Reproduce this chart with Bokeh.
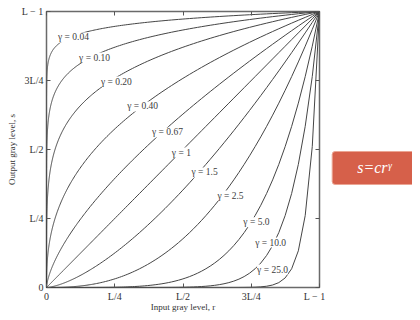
import numpy as np
from bokeh.plotting import figure
from bokeh.layouts import row
from bokeh.models import Range1d, LinearAxis, FixedTicker, Label, LabelSet, ColumnDataSource
from bokeh.embed import file_html
from bokeh.resources import INLINE

# ---- data ----
gammas = [0.04, 0.10, 0.20, 0.40, 0.67, 1.0, 1.5, 2.5, 5.0, 10.0, 25.0]
gamma_labels = ["γ = 0.04", "γ = 0.10", "γ = 0.20", "γ = 0.40", "γ = 0.67", "γ = 1",
                "γ = 1.5", "γ = 2.5", "γ = 5.0", "γ = 10.0", "γ = 25.0"]
label_x = [0.099, 0.176, 0.256, 0.352, 0.443, 0.494, 0.579, 0.674, 0.769, 0.821, 0.828]
label_y = [0.906, 0.833, 0.746, 0.656, 0.562, 0.489, 0.417, 0.333, 0.236, 0.163, 0.065]
tick_values = [0, 0.25, 0.5, 0.75, 1.0]
tick_labels = ["0", "L/4", "L/2", "3L/4", "L − 1"]
formula_text = "s=crᵞ"

SERIF = "Liberation Serif"
INK = "#454545"
H = 316

p = figure(width=325, height=H, output_backend="svg", toolbar_location=None,
           x_range=Range1d(0, 1), y_range=Range1d(0, 1),
           x_axis_type=None, y_axis_type=None,
           min_border_left=46, min_border_right=6, min_border_top=11, min_border_bottom=29)
p.grid.visible = False
p.outline_line_color = "#6a6a6a"
p.outline_line_width = 1.5
p.background_fill_color = "white"
p.border_fill_color = "white"

shown = {v: t for v, t in zip(tick_values, tick_labels)}
hidden = {v: "" for v in tick_values}


def make_axis(show_labels, label=None, label_standoff=2):
    ax = LinearAxis(ticker=FixedTicker(ticks=tick_values, minor_ticks=[]))
    ax.major_tick_in = 4
    ax.major_tick_out = 0
    ax.major_tick_line_color = "#555555"
    ax.axis_line_color = None
    ax.major_label_text_font = SERIF
    ax.major_label_text_color = "#333333"
    ax.major_label_text_font_size = "10px"
    if show_labels:
        ax.major_label_overrides = shown
        ax.major_label_standoff = 3
    else:
        ax.major_label_overrides = hidden
        ax.major_label_standoff = 0
    if label:
        ax.axis_label = label
        ax.axis_label_text_font = SERIF
        ax.axis_label_text_font_style = "normal"
        ax.axis_label_text_font_size = "9px"
        ax.axis_label_text_color = "#333333"
        ax.axis_label_standoff = label_standoff
    return ax

p.add_layout(make_axis(True, "Input gray level, r", label_standoff=-3), "below")
p.add_layout(make_axis(True, "Output gray level, s"), "left")
p.add_layout(make_axis(False), "above")
p.add_layout(make_axis(False), "right")

# curves s = r^gamma
r = np.concatenate([[0.0], np.logspace(-7, 0, 600)])
for g in gammas:
    p.line(r, r ** g, line_color=INK, line_width=1.0)

src = ColumnDataSource(dict(x=label_x, y=label_y, t=gamma_labels))
p.add_layout(LabelSet(x="x", y="y", text="t", source=src,
                      text_font=SERIF, text_font_size="9.5px", text_color="#3c3c3c",
                      text_align="center", text_baseline="middle",
                      background_fill_color="white"))

# side panel with the formula box
q = figure(width=87, height=H, output_backend="svg", toolbar_location=None,
           x_range=Range1d(0, 1), y_range=Range1d(0, 1),
           x_axis_type=None, y_axis_type=None,
           min_border_left=0, min_border_right=0, min_border_top=0, min_border_bottom=0)
q.grid.visible = False
q.outline_line_color = None
q.background_fill_color = "white"
q.border_fill_color = "white"
q.add_layout(Label(x=0.56, y=0.433, text=formula_text,
                   text_font=SERIF, text_font_style="italic", text_font_size="16px",
                   text_color="white", text_align="center", text_baseline="middle",
                   background_fill_color="#D6604A", border_line_color="#EBA593",
                   border_line_width=1, padding=(25, 8), border_radius=3))

layout = row(p, q)
open("out.html", "w").write(file_html(layout, INLINE))
